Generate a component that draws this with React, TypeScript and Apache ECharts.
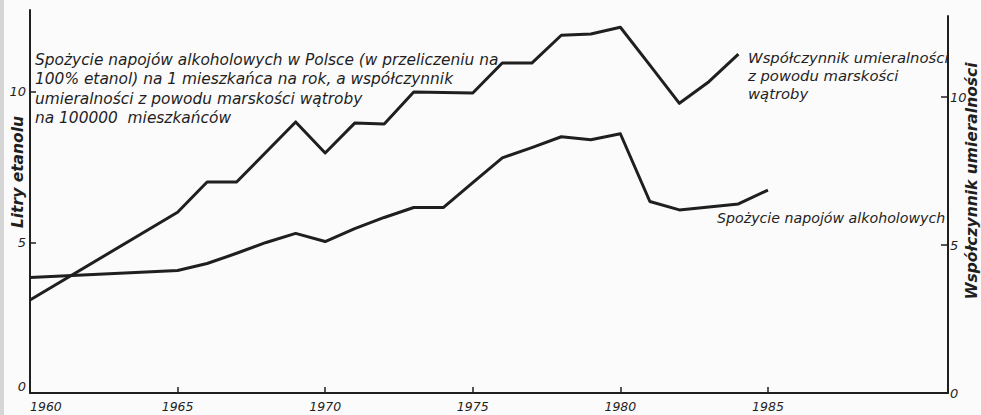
import React, { useEffect, useRef } from "react";
import * as echarts from "echarts";

// Consumption of alcoholic beverages (litres of 100% ethanol per inhabitant per year)
const consumptionYears = [1960, 1965, 1966, 1967, 1968, 1969, 1970, 1971, 1972, 1973, 1974, 1975, 1976, 1977, 1978, 1979, 1980, 1981, 1982, 1984, 1985];
const consumptionLitres = [3.84, 4.07, 4.3, 4.64, 5.0, 5.3, 5.03, 5.46, 5.83, 6.16, 6.16, 6.99, 7.81, 8.15, 8.51, 8.41, 8.61, 6.36, 6.08, 6.28, 6.74];

// Liver cirrhosis mortality rate per 100000 inhabitants
const mortalityYears = [1960, 1965, 1966, 1967, 1969, 1970, 1971, 1972, 1973, 1975, 1976, 1977, 1978, 1979, 1980, 1981, 1982, 1983, 1984];
const mortalityRate = [3.14, 6.11, 7.13, 7.13, 9.16, 8.11, 9.12, 9.09, 10.17, 10.14, 11.15, 11.15, 12.09, 12.13, 12.36, 11.08, 9.79, 10.52, 11.45];

const xLabelYears = [1960, 1965, 1970, 1975, 1980, 1985];
const xTickYears = [1965, 1970, 1975, 1980, 1985];
const yTicks = [0, 5, 10];

const annotationLines = [
  "Spożycie napojów alkoholowych w Polsce (w przeliczeniu na",
  "100% etanol) na 1 mieszkańca na rok, a współczynnik",
  "umieralności z powodu marskości wątroby",
  "na 100000  mieszkańców",
];
const mortalityLabel = ["Współczynnik umieralności", "z powodu marskości", "wątroby"];
const consumptionLabel = "Spożycie napojów alkoholowych";
const leftTitle = "Litry etanolu";
const rightTitle = "Współczynnik umieralności";

const INK = "#1f1f1f";
const FONT = "DejaVu Sans";

export default function App() {
  const ref = useRef<HTMLDivElement>(null);

  useEffect(() => {
    if (!ref.current) return;
    const chart = echarts.init(ref.current, undefined, { renderer: "svg" });

    const consumptionData = consumptionYears.map((y, i) => [y, consumptionLitres[i]]);
    const mortalityData = mortalityYears.map((y, i) => [y, mortalityRate[i]]);

    const labelStyle = {
      color: INK,
      fontFamily: FONT,
      fontStyle: "italic" as const,
      fontSize: 12.5,
    };

    chart.setOption({
      animation: false,
      backgroundColor: "#fbfbfb",
      grid: [
        { left: 30, right: 33, top: 10, bottom: 22 },
        { left: 30, right: 33, top: 16, bottom: 22 },
      ],
      xAxis: [
        {
          gridIndex: 0,
          type: "value",
          min: 1960,
          max: 1991.1,
          interval: 5,
          axisLine: { show: true, lineStyle: { color: INK, width: 2 } },
          axisTick: { show: true, inside: true, length: 6, customValues: xTickYears, lineStyle: { color: INK, width: 1.5 } },
          axisLabel: { ...labelStyle, margin: 7, alignMinLabel: "left", customValues: xLabelYears, formatter: (v: number) => String(v) },
          splitLine: { show: false },
        },
        {
          gridIndex: 1,
          type: "value",
          min: 1960,
          max: 1991.1,
          show: false,
        },
      ],
      yAxis: [
        {
          gridIndex: 0,
          type: "value",
          position: "left",
          min: 0,
          max: 12.72,
          interval: 5,
          axisLine: { show: true, lineStyle: { color: INK, width: 2 } },
          axisTick: { show: true, inside: true, length: 6, customValues: yTicks, lineStyle: { color: INK, width: 1.5 } },
          axisLabel: { ...labelStyle, fontSize: 13, margin: 4, verticalAlignMinLabel: "bottom", customValues: yTicks, formatter: (v: number) => String(v) },
          splitLine: { show: false },
        },
        {
          gridIndex: 1,
          type: "value",
          position: "right",
          min: 0,
          max: 12.74,
          interval: 5,
          axisLine: { show: true, lineStyle: { color: INK, width: 2 } },
          axisTick: { show: true, inside: true, length: 7, customValues: yTicks, lineStyle: { color: INK, width: 1.5 } },
          axisLabel: { ...labelStyle, fontSize: 13, margin: 2, customValues: yTicks, formatter: (v: number) => String(v) },
          splitLine: { show: false },
        },
      ],
      series: [
        {
          name: consumptionLabel,
          type: "line",
          xAxisIndex: 0,
          yAxisIndex: 0,
          data: consumptionData,
          symbol: "none",
          lineStyle: { color: INK, width: 3, join: "round" },
        },
        {
          name: rightTitle,
          type: "line",
          xAxisIndex: 1,
          yAxisIndex: 1,
          data: mortalityData,
          symbol: "none",
          lineStyle: { color: INK, width: 3, join: "round" },
        },
      ],
      graphic: [
        { type: "rect", left: 0, top: 0, shape: { width: 4, height: 415 }, style: { fill: "#d6d6d6" }, silent: true },
        {
          type: "text",
          x: 35,
          y: 50,
          style: {
            text: annotationLines.join("\n"),
            fill: INK,
            font: `italic 15.4px "${FONT}"`,
            lineHeight: 19.5,
          },
        },
        {
          type: "text",
          x: 748,
          y: 48,
          style: {
            text: mortalityLabel.join("\n"),
            fill: INK,
            font: `italic 14.8px "${FONT}"`,
            lineHeight: 18,
          },
        },
        {
          type: "text",
          x: 717,
          y: 211,
          style: {
            text: consumptionLabel,
            fill: INK,
            font: `italic 14.2px "${FONT}"`,
          },
        },
        {
          type: "text",
          x: 18,
          y: 172,
          rotation: Math.PI / 2,
          style: {
            text: leftTitle,
            fill: INK,
            font: `italic bold 15.5px "${FONT}"`,
            textAlign: "center",
            textVerticalAlign: "middle",
          },
        },
        {
          type: "text",
          x: 972,
          y: 181,
          rotation: Math.PI / 2,
          style: {
            text: rightTitle,
            fill: INK,
            font: `italic bold 15.5px "${FONT}"`,
            textAlign: "center",
            textVerticalAlign: "middle",
          },
        },
      ],
    });

    return () => chart.dispose();
  }, []);

  return (
    <div
      ref={ref}
      style={{ position: "fixed", left: 0, top: 0, width: 981, height: 415 }}
    />
  );
}
